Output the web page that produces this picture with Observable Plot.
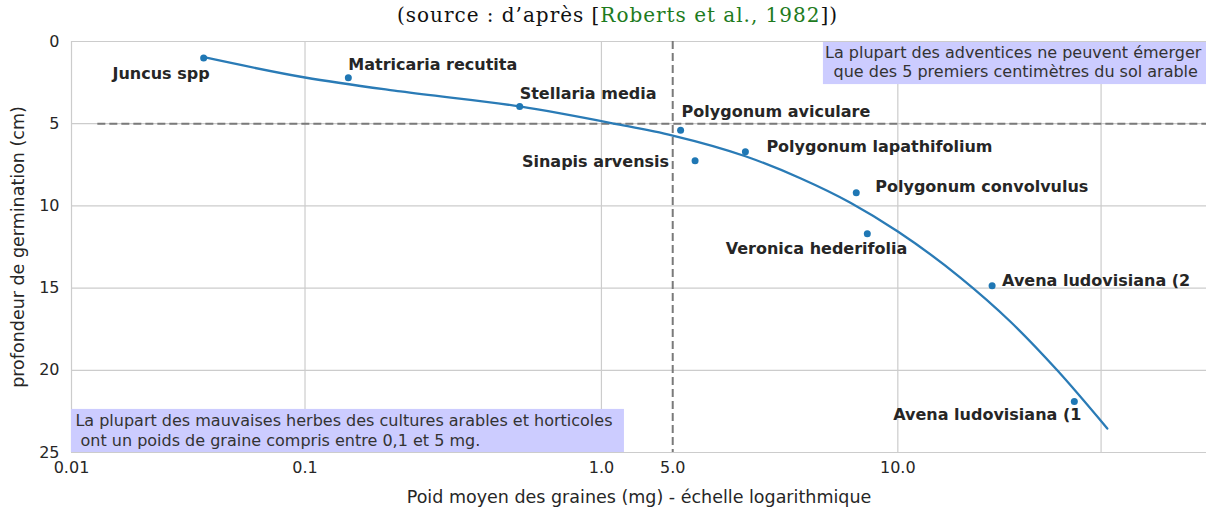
<!DOCTYPE html>
<html>
<head>
<meta charset="utf-8">
<script src="https://cdn.jsdelivr.net/npm/d3@7"></script>
<script src="https://cdn.jsdelivr.net/npm/@observablehq/plot@0.6"></script>
<style>
  body { margin: 0; background: white; width: 1206px; height: 512px; overflow: hidden; }
  #title { position: relative; height: 30px; }
  #title span.t { position: absolute; left: 397px; top: 3px; white-space: nowrap;
           font-family: "DejaVu Serif", "Liberation Serif", serif; font-size: 20px; color: #111; }
  #title .cite { color: #1e7b1e; }
  #chart svg { display: block; }
</style>
</head>
<body>
<div id="title"><span class="t" id="titleText">(source : d’après [<span class="cite">Roberts et al., 1982</span>])</span></div>
<div id="chart"></div>
<script>
// ---- species (seed weight in mg, germination depth in cm) ----
const speciesNames = ["Juncus spp", "Matricaria recutita", "Stellaria media", "Polygonum aviculare",
  "Sinapis arvensis", "Polygonum lapathifolium", "Polygonum convolvulus", "Veronica hederifolia",
  "Avena ludovisiana (2", "Avena ludovisiana (1"];
const speciesWeight = [0.0455, 0.14, 0.53, 1.85, 2.07, 3.06, 7.24, 7.89, 20.8, 39.4];
const speciesDepth  = [1.0, 2.2, 3.95, 5.4, 7.25, 6.7, 9.2, 11.7, 14.85, 21.9];

// ---- fitted curve, points ----
const curveWeight = [0.046, 0.10, 0.21, 0.53, 1.10, 1.74, 3.06, 4.69, 6.92, 10.0, 16.25, 23.95, 34.5, 50.9];
const curveDepth  = [0.97, 2.19, 3.04, 3.95, 4.99, 5.72, 6.98, 8.32, 9.81, 11.56, 14.36, 17.03, 20.0, 23.54];

// ---- axes ----
const xDomain = [0.0163, 110];
const yDomain = [0, 25];
const xTickValues = [0.0163, 0.1, 1, 1.74, 10];
const xTickLabels = ["0.01", "0.1", "1.0", "5.0", "10.0"];
const xGridValues = [0.1, 1, 10, 48.5];
const yTickValues = [0, 5, 10, 15, 20, 25];
const yGridValues = [5, 10, 15, 20];

// ---- thresholds ----
const depthThreshold = 5;
const weightThreshold = 1.74;
const depthThresholdStart = 0.02;

// ---- annotations ----
const noteTexts = [
  "La plupart des adventices ne peuvent émerger\n que des 5 premiers centimètres du sol arable",
  "La plupart des mauvaises herbes des cultures arables et horticoles\n\u00a0ont un poids de graine compris entre 0,1 et 5 mg."
];
const noteAnchorX = [24.5, 0.0168];
const noteAnchorY = [0.15, 24.6];
const noteBoxX1 = [5.61, 0.0163];
const noteBoxX2 = [110, 1.196];
const noteBoxY1 = [0.06, 22.38];
const noteBoxY2 = [2.62, 25];

// ---- label layout (pixel offsets from each point) ----
const labelDx = [6, 0, 0, 1, -26, 21, 19, 40, 10, 7];
const labelDy = [16, -13, -13, -18, 1, -5, -6, 15, -5, 13];
const labelAnchor = ["end", "start", "start", "start", "end", "start", "start", "end", "start", "end"];

const species = speciesNames.map((name, i) => ({
  name, w: speciesWeight[i], d: speciesDepth[i], dx: labelDx[i], dy: labelDy[i], anchor: labelAnchor[i]
}));
const curve = curveWeight.map((w, i) => ({w, d: curveDepth[i]}));
const boxes = noteTexts.map((t, i) => ({x1: noteBoxX1[i], x2: noteBoxX2[i], y1: noteBoxY1[i], y2: noteBoxY2[i]}));
const tickLabel = new Map(xTickValues.map((v, i) => [v, xTickLabels[i]]));

const grid = "#cccccc";
const ink = "#262626";

const chart = Plot.plot({
  width: 1206,
  height: 482,
  marginLeft: 71,
  marginRight: 0,
  marginTop: 11,
  marginBottom: 60,
  style: { fontFamily: "DejaVu Sans", fontSize: "16px", color: ink, background: "white", overflow: "visible" },
  x: { type: "log", domain: xDomain },
  y: { domain: yDomain, reverse: true },
  marks: [
    Plot.gridX(xGridValues, { stroke: grid, strokeOpacity: 1, strokeWidth: 1.2 }),
    Plot.gridY(yGridValues, { stroke: grid, strokeOpacity: 1, strokeWidth: 1.2 }),
    Plot.ruleY([yDomain[0], yDomain[1]], { stroke: grid, strokeWidth: 1.2 }),
    Plot.ruleX([xDomain[0]], { stroke: grid, strokeWidth: 1.2 }),
    Plot.rect(boxes, { x1: "x1", x2: "x2", y1: "y1", y2: "y2", fill: "#ccccff" }),
    Plot.ruleY([depthThreshold], { x1: depthThresholdStart, x2: xDomain[1], stroke: "#7a7a7a", strokeWidth: 2, strokeDasharray: "8,4" }),
    Plot.ruleX([weightThreshold], { stroke: "#7a7a7a", strokeWidth: 2, strokeDasharray: "8,4" }),
    Plot.line(curve, { x: "w", y: "d", stroke: "#2a7bb6", strokeWidth: 2.3, curve: "monotone-x" }),
    Plot.dot(species, { x: "w", y: "d", r: 3.5, fill: "#1f77b4", stroke: "none" }),
    ...species.map(s => Plot.text([s], {
      x: "w", y: "d", text: "name", textAnchor: s.anchor, dx: s.dx, dy: s.dy,
      fontWeight: "bold", fontSize: 16, fill: ink
    })),
    Plot.text([noteTexts[0]], { x: [noteAnchorX[0]], y: [noteAnchorY[0]], text: d => d, textAnchor: "middle", lineAnchor: "top",
      fontSize: 16, lineHeight: 1.22, fill: "#333333" }),
    Plot.text([noteTexts[1]], { x: [noteAnchorX[1]], y: [noteAnchorY[1]], text: d => d, textAnchor: "start", lineAnchor: "bottom",
      fontSize: 16, lineHeight: 1.22, fill: "#333333" }),
    Plot.axisX(xTickValues, { tickSize: 0, tickPadding: 9, tickFormat: d => tickLabel.get(d), fontSize: 16 }),
    Plot.axisX({ ticks: [], tickSize: 0, fontSize: 17.5,
      label: "Poid moyen des graines (mg) - échelle logarithmique", labelAnchor: "center", labelArrow: "none", labelOffset: 50 }),
    Plot.axisY(yTickValues, { tickSize: 0, tickPadding: 12, fontSize: 16 }),
    Plot.axisY({ ticks: [], tickSize: 0, fontSize: 17.5,
      label: "profondeur de germination (cm)", labelAnchor: "center", labelArrow: "none", labelOffset: 60 })
  ]
});
document.getElementById("chart").appendChild(chart);

// fit the caption to the reference's width
const tt = document.getElementById("titleText");
const target = 441;
const n = tt.textContent.length;
const w0 = tt.getBoundingClientRect().width;
tt.style.letterSpacing = ((target - w0) / n) + "px";
</script>
</body>
</html>
